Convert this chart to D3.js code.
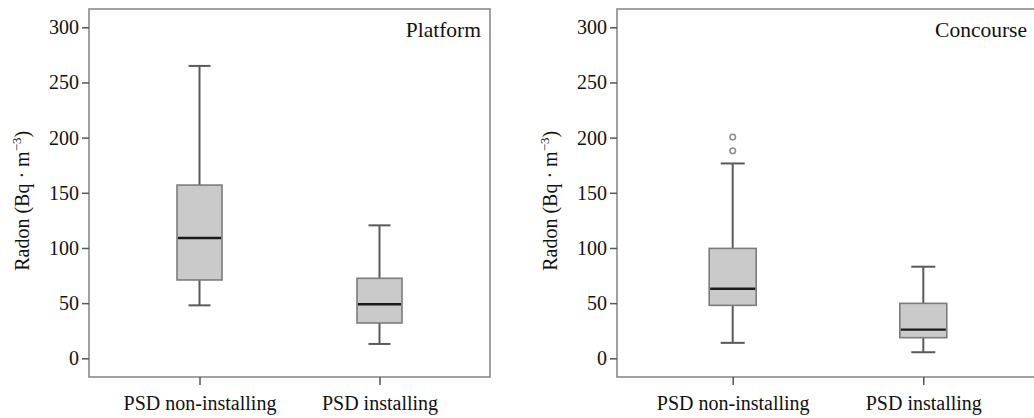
<!DOCTYPE html>
<html lang="en">

<head>
    <title>Radon box plots</title>
    <script src="https://d3js.org/d3.v7.min.js"></script>
    <style>
        body {
            margin: 0;
            background: white;
        }

        text {
            font-family: "Liberation Serif", "Times New Roman", serif;
            fill: #111;
        }
    </style>
</head>

<body>
    <div id="my-graph"></div>

    <script>
        // categories and tick labels
        const categories = ['PSD non-installing', 'PSD installing'];
        const yTicks = [0, 50, 100, 150, 200, 250, 300];

        // box stats: [lowWhisker, q1, median, q3, highWhisker]
        const platformStats = [
            [48, 71, 109, 157, 265],
            [13, 32, 49, 72.5, 120.5]
        ];
        const platformOutliers = [[], []];

        const concourseStats = [
            [14, 48, 63, 99.6, 176.6],
            [5.5, 18.7, 26, 49.8, 83]
        ];
        const concourseOutliers = [[188, 200.5], []];

        const svgWidth = 1034, svgHeight = 418;

        const svg = d3.select('#my-graph')
            .append('svg')
            .attr('width', svgWidth)
            .attr('height', svgHeight);

        function drawPanel(opts) {
            const plotWidth = opts.width, plotHeight = 368;
            const g = svg.append('g')
                .attr('transform', 'translate(' + opts.left + ',9)');

            const scaleY = d3.scaleLinear()
                .domain([0, 300])
                .range([349.3, 18.3]);

            const scaleX = d3.scalePoint()
                .domain(categories)
                .range([0, plotWidth])
                .padding(opts.pad);

            // frame
            g.append('rect')
                .attr('x', 0).attr('y', 0)
                .attr('width', plotWidth).attr('height', plotHeight)
                .attr('fill', 'none')
                .attr('stroke', '#8a8a8a')
                .attr('stroke-width', 1.6);

            const yAxis = g.append('g')
                .call(d3.axisLeft(scaleY)
                    .tickValues(yTicks)
                    .tickSize(7)
                    .tickPadding(3));
            yAxis.select('.domain').remove();
            yAxis.selectAll('line').attr('stroke', '#555').attr('stroke-width', 1.5);
            yAxis.selectAll('text')
                .style('font-size', '20px')
                .style('font-family', '"Liberation Serif", serif')
                .attr('fill', '#111');

            const xAxis = g.append('g')
                .attr('transform', 'translate(0,' + plotHeight + ')')
                .call(d3.axisBottom(scaleX)
                    .tickSize(8)
                    .tickPadding(11));
            xAxis.select('.domain').remove();
            xAxis.selectAll('line').attr('stroke', '#555').attr('stroke-width', 1.5);
            xAxis.selectAll('text')
                .style('font-size', '20px')
                .style('font-family', '"Liberation Serif", serif')
                .attr('fill', '#111');

            // y axis title
            const title = g.append('text')
                .attr('transform', 'translate(-60,' + (scaleY(150) + 8) + ') rotate(-90)')
                .attr('text-anchor', 'middle')
                .style('font-size', '20px');
            title.append('tspan').text('Radon (Bq \u00b7 m');
            title.append('tspan').attr('dy', -8).style('font-size', '13px').text('\u22123');
            title.append('tspan').attr('dy', 8).text(')');

            // panel label
            g.append('text')
                .attr('x', plotWidth - opts.labelRight)
                .attr('y', 28)
                .attr('text-anchor', 'end')
                .style('font-size', '21.5px')
                .text(opts.label);

            const boxW = opts.boxW, capW = opts.capW;

            categories.forEach(function (cat, i) {
                const s = opts.stats[i];
                const cx = scaleX(cat);
                const bg = g.append('g');

                // whiskers
                bg.append('line')
                    .attr('x1', cx).attr('x2', cx)
                    .attr('y1', scaleY(s[0])).attr('y2', scaleY(s[1]))
                    .attr('stroke', '#5a5a5a').attr('stroke-width', 2);
                bg.append('line')
                    .attr('x1', cx).attr('x2', cx)
                    .attr('y1', scaleY(s[3])).attr('y2', scaleY(s[4]))
                    .attr('stroke', '#5a5a5a').attr('stroke-width', 2);
                [s[0], s[4]].forEach(function (v) {
                    bg.append('line')
                        .attr('x1', cx - capW / 2).attr('x2', cx + capW / 2)
                        .attr('y1', scaleY(v)).attr('y2', scaleY(v))
                        .attr('stroke', '#5a5a5a').attr('stroke-width', 2);
                });

                // box
                bg.append('rect')
                    .attr('x', cx - boxW / 2)
                    .attr('y', scaleY(s[3]))
                    .attr('width', boxW)
                    .attr('height', scaleY(s[1]) - scaleY(s[3]))
                    .attr('fill', '#cacaca')
                    .attr('stroke', '#7c7c7c')
                    .attr('stroke-width', 1.6);

                // median
                bg.append('line')
                    .attr('x1', cx - boxW / 2 + 1).attr('x2', cx + boxW / 2 - 1)
                    .attr('y1', scaleY(s[2])).attr('y2', scaleY(s[2]))
                    .attr('stroke', '#1a1a1a').attr('stroke-width', 2.4);

                // outliers
                bg.selectAll('circle')
                    .data(opts.outliers[i])
                    .join('circle')
                    .attr('cx', cx)
                    .attr('cy', d => scaleY(d))
                    .attr('r', 2.8)
                    .attr('fill', 'none')
                    .attr('stroke', '#8a8a8a')
                    .attr('stroke-width', 1.5);
            });
        }

        drawPanel({
            left: 89, width: 401, pad: 0.614, label: 'Platform', labelRight: 9,
            stats: platformStats, outliers: platformOutliers, boxW: 45, capW: 22
        });
        drawPanel({
            left: 617, width: 422, pad: 0.607, label: 'Concourse', labelRight: 12,
            stats: concourseStats, outliers: concourseOutliers, boxW: 47, capW: 24
        });
    </script>
</body>

</html>
